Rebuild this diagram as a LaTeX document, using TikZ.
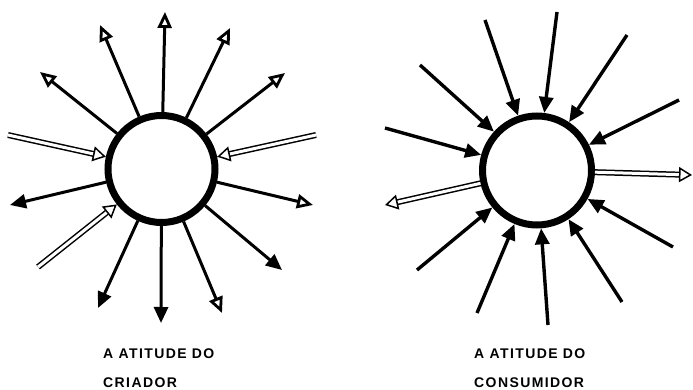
\documentclass[tikz,border=0pt]{standalone}
\usepackage{fontspec}
\usetikzlibrary{arrows.meta}
\newfontfamily\rotulo[LetterSpace=10, BoldFont={Liberation Sans Bold}]{Liberation Sans}

\tikzset{
  anel/.style={circle, draw, line width=7pt, inner sep=0pt},
  raio/.style={line width=3pt, -{Triangle[length=16pt, width=14pt]}},
  raio aberto/.style={line width=3pt, -{Triangle[open, fill=white, length=16pt, width=14pt, line width=2.8pt]}},
  oco/.style={double, double distance=3pt, line width=1.5pt, -{Triangle[open, fill=white, length=13pt, width=15pt, line width=1.5pt]}},
  legenda/.style={anchor=base west, inner sep=0pt, font=\fontsize{14}{14}\rotulo\bfseries\selectfont},
}

\begin{document}
\begin{tikzpicture}[x=1pt, y=-1pt]
        \useasboundingbox (0,0) rectangle (693,390);

        % Círculo do criador (esquerda)
        \node[anel, minimum size=107pt] (criador) at (161.5,169) {};

        % Raios que saem do criador
        \foreach \x/\y/\s [count=\i] in {165/12/raio aberto, 230/28/raio aberto, 285/73/raio aberto,
                313/205/raio aberto, 282/270/raio, 222/313/raio aberto, 161/323/raio,
                98/308/raio, 10/205/raio, 40/72/raio aberto, 100/25/raio aberto} {
            \coordinate (cr\i) at (\x,\y);
            \draw[\s] (criador) -- (cr\i);
        }

        % Setas ocas que entram
        \foreach \x/\y [count=\i] in {8/135, 316/135, 38/267} {
            \coordinate (ce\i) at (\x,\y);
            \draw[oco] (ce\i) -- (criador);
        }

        % Círculo do consumidor (direita)
        \node[anel, minimum size=109pt] (consumidor) at (537,170.5) {};

        % Raios que entram no consumidor
        \foreach \x/\y [count=\i] in {485/20, 557/12, 627/35, 679/100, 673/247, 622/302,
                548/325, 477/313, 417/270, 385/128, 420/65} {
            \coordinate (co\i) at (\x,\y);
            \draw[raio, line width=3.4pt] (co\i) -- (consumidor);
        }

        % Setas ocas que saem
        \foreach \x/\y [count=\i] in {692/175, 385/205} {
            \coordinate (cs\i) at (\x,\y);
            \draw[oco] (consumidor) -- (cs\i);
        }

        % Legendas
        \node[legenda] (t1) at (103,358) {A ATITUDE DO};
        \node[legenda] (t2) at (103,387) {CRIADOR};
        \node[legenda] (t3) at (474,358) {A ATITUDE DO};
        \node[legenda] (t4) at (474,387) {CONSUMIDOR};

\end{tikzpicture}
\end{document}
